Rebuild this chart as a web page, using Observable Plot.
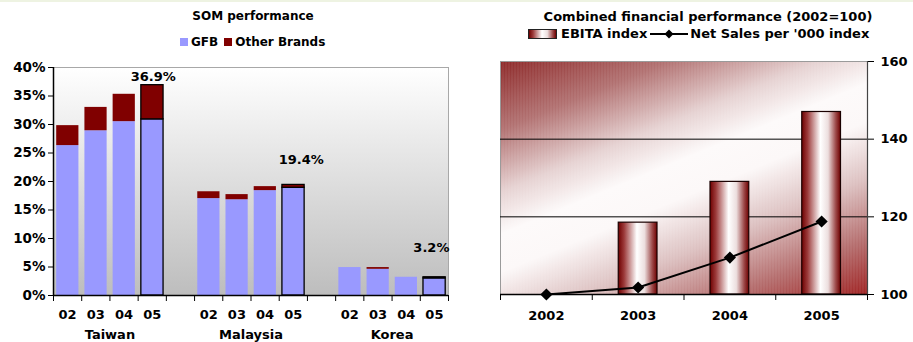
<!DOCTYPE html>
<html>
<head>
<meta charset="utf-8">
<script src="https://cdn.jsdelivr.net/npm/d3@7"></script>
<script src="https://cdn.jsdelivr.net/npm/@observablehq/plot@0.6"></script>
<style>
  body { margin: 0; background: #fff; font-family: "DejaVu Sans", Verdana, sans-serif; }
  #wrap { position: relative; width: 913px; height: 342px; overflow: hidden; background: #fff; }
  #topline { position: absolute; left: 0; top: 0; width: 913px; height: 2px; background: #eef3e2; }
  .title { position: absolute; font-weight: bold; color: #000; white-space: nowrap; text-align: center; }
  .legend { position: absolute; font-weight: bold; color: #000; white-space: nowrap; display: flex; align-items: center; }
  .sw { display: inline-block; width: 8px; height: 8px; margin-right: 3px; }
  .chart { position: absolute; }
  svg { overflow: visible; }
</style>
</head>
<body>
<div id="wrap">
  <div id="topline"></div>
  <div class="title" style="left:0;width:506px;top:9px;font-size:12px;">SOM performance</div>
  <div class="legend" id="somLegend" style="left:180px;top:35px;font-size:12px;"></div>
  <div class="title" style="left:460px;width:496px;top:9px;font-size:13px;">Combined financial performance (2002=100)</div>
  <div class="legend" id="finLegend" style="left:528px;top:26px;font-size:13px;"></div>
  <div class="chart" id="som" style="left:0;top:55px;"></div>
  <div class="chart" id="fin" style="left:460px;top:50px;"></div>
</div>
<script>
// Share of market (%) by market and year
const markets = ["Taiwan", "Malaysia", "Korea"];
const yearLabels = ["02", "03", "04", "05"];
const taiwanGFB = [26.3, 28.9, 30.5, 30.9];
const taiwanTotal = [29.8, 33.0, 35.3, 36.9];
const malaysiaGFB = [17.0, 16.8, 18.4, 18.9];
const malaysiaTotal = [18.2, 17.7, 19.1, 19.4];
const koreaGFB = [4.9, 4.6, 3.2, 3.0];
const koreaTotal = [4.9, 4.9, 3.2, 3.2];
const shareTicks = [0, 5, 10, 15, 20, 25, 30, 35, 40];

// Financial indices (2002 = 100)
const finYears = ["2002", "2003", "2004", "2005"];
const ebitaIndex = [100, 118.5, 129, 147];
const netSalesIndex = [100, 101.8, 109.5, 118.8];
const indexTicks = [100, 120, 140, 160];

const GFB_COLOR = "#9999ff";
const OTHER_COLOR = "#800000";
const FONT = "'DejaVu Sans', Verdana, sans-serif";
const NS = "http://www.w3.org/2000/svg";

function addDefs(svg, markup) {
  const defs = document.createElementNS(NS, "defs");
  defs.innerHTML = markup;
  svg.insertBefore(defs, svg.firstChild);
}

// ---------- SOM performance ----------
const gfbSeries = [taiwanGFB, malaysiaGFB, koreaGFB];
const totalSeries = [taiwanTotal, malaysiaTotal, koreaTotal];
const rows = [];
markets.forEach((m, g) => {
  yearLabels.forEach((yr, k) => {
    rows.push({
      market: m, yr, slot: g * 5 + k,
      gfb: gfbSeries[g][k], total: totalSeries[g][k],
      latest: k === yearLabels.length - 1
    });
  });
});
const latestRows = rows.filter(d => d.latest);
const slotCount = markets.length * 5 - 1;
const labelShift = [[1, -8], [8, -25], [-3, -29]];

const som = Plot.plot({
  width: 460, height: 287,
  marginLeft: 53, marginRight: 12, marginTop: 12, marginBottom: 47,
  x: { type: "linear", domain: [0, slotCount], axis: null },
  y: { domain: [0, 40], axis: null },
  style: { fontFamily: FONT, fontSize: "13px", fontWeight: "bold", color: "#000", background: "transparent" },
  marks: [
    Plot.frame({ fill: "url(#somBg)", stroke: "#a8a8a8" }),
    Plot.rectY(rows, {
      x1: "slot", x2: d => d.slot + 1, y1: 0, y2: "gfb",
      fill: GFB_COLOR, insetLeft: 3.2, insetRight: 2.8,
      stroke: d => d.latest ? "#000" : "none", strokeWidth: 1.3
    }),
    Plot.rectY(rows.filter(d => d.total > d.gfb), {
      x1: "slot", x2: d => d.slot + 1, y1: "gfb", y2: "total",
      fill: OTHER_COLOR, insetLeft: 3.2, insetRight: 2.8,
      stroke: d => d.latest ? "#000" : "none", strokeWidth: 1.3
    }),
    Plot.axisY({ ticks: shareTicks, tickFormat: d => d + "%", tickSize: 5, tickPadding: 3, fontSize: 13.5, label: null }),
    Plot.ruleX([0], { stroke: "#000", strokeWidth: 1.5 }),
    Plot.ruleY([0], { stroke: "#000", strokeWidth: 1.5 }),
    Plot.axisX({ ticks: d3.range(slotCount + 1), tickFormat: () => "", tickSize: 6, label: null }),
    Plot.text(rows, { x: d => d.slot + 0.5, y: 0, text: "yr", dy: 19, fontSize: 13 }),
    Plot.text(markets, { x: (d, i) => i * 5 + 2, y: 0, text: d => d, dy: 39, fontSize: 13 }),
    ...latestRows.map((d, i) => Plot.text([d], {
      x: r => r.slot + 0.5, y: "total", text: r => r.total.toFixed(1) + "%",
      dx: labelShift[i][0], dy: labelShift[i][1], fontSize: 13
    }))
  ]
});
addDefs(som, `
  <linearGradient id="somBg" x1="0" y1="0" x2="0" y2="1">
    <stop offset="0" stop-color="#ffffff"/>
    <stop offset="1" stop-color="#bdbdbd"/>
  </linearGradient>`);
document.getElementById("som").appendChild(som);

// SOM legend
const somLegend = document.getElementById("somLegend");
[["GFB", GFB_COLOR], ["Other Brands", OTHER_COLOR]].forEach(([name, c], i) => {
  const s = document.createElement("span");
  s.className = "sw"; s.style.background = c;
  if (i > 0) s.style.marginLeft = "6px";
  somLegend.appendChild(s);
  somLegend.appendChild(document.createTextNode(name));
});

// ---------- Combined financial performance ----------
const fin = finYears.map((y, i) => ({ year: y, i, ebita: ebitaIndex[i], sales: netSalesIndex[i] }));

const finChart = Plot.plot({
  width: 453, height: 292,
  marginLeft: 40, marginRight: 46, marginTop: 11, marginBottom: 48,
  x: { type: "linear", domain: [0, finYears.length], axis: null },
  y: { domain: [100, 160], axis: null },
  style: { fontFamily: FONT, fontSize: "13px", fontWeight: "bold", color: "#000", background: "transparent" },
  marks: [
    Plot.frame({ fill: "url(#finBg)", stroke: "none" }),
    Plot.frame({ fill: "url(#finStripes)", stroke: "#9a9a9a" }),
    Plot.ruleY([120, 140], { stroke: "#000", strokeWidth: 1 }),
    Plot.rectY(fin, {
      x1: "i", x2: d => d.i + 1, y1: 100, y2: "ebita",
      fill: "url(#cyl)", stroke: "#1a0000", strokeWidth: 1.2,
      insetLeft: 26.5, insetRight: 26.5
    }),
    Plot.ruleY([100], { stroke: "#000", strokeWidth: 1.5 }),
    Plot.ruleX([finYears.length], { stroke: "#444", strokeWidth: 1.2 }),
    Plot.axisY({ anchor: "right", ticks: indexTicks, tickSize: 6, tickPadding: 7, fontSize: 13, label: null }),
    Plot.axisX({ ticks: d3.range(finYears.length + 1), tickFormat: () => "", tickSize: 6, label: null }),
    Plot.text(fin, { x: d => d.i + 0.5, y: 100, text: "year", dy: 21, fontSize: 13 }),
    Plot.line(fin, { x: d => d.i + 0.5, y: "sales", stroke: "#000", strokeWidth: 2 }),
    Plot.dot(fin, { x: d => d.i + 0.5, y: "sales", symbol: "diamond2", r: 5.5, fill: "#000", stroke: "none" })
  ]
});
// Background runs red in the upper-left and lower-right corners, white along the diagonal
addDefs(finChart, `
  <linearGradient id="finBg" gradientUnits="userSpaceOnUse" x1="162" y1="-39" x2="297" y2="289">
    <stop offset="0" stop-color="#8e2a2a"/>
    <stop offset="0.18" stop-color="#b27272"/>
    <stop offset="0.34" stop-color="#e6d2d2"/>
    <stop offset="0.45" stop-color="#fdfafa"/>
    <stop offset="0.55" stop-color="#fcf8f8"/>
    <stop offset="0.7" stop-color="#dcc0c0"/>
    <stop offset="0.86" stop-color="#b46c6c"/>
    <stop offset="1" stop-color="#a02424"/>
  </linearGradient>
  <pattern id="finStripes" width="3" height="10" patternUnits="userSpaceOnUse">
    <rect x="0" y="0" width="1" height="10" fill="#ffffff" fill-opacity="0.1"/>
  </pattern>
  <linearGradient id="cyl" x1="0" y1="0" x2="1" y2="0">
    <stop offset="0" stop-color="#6e0000"/>
    <stop offset="0.15" stop-color="#9c3a3a"/>
    <stop offset="0.48" stop-color="#ffffff"/>
    <stop offset="0.68" stop-color="#ecdede"/>
    <stop offset="0.88" stop-color="#9c4848"/>
    <stop offset="1" stop-color="#6e0000"/>
  </linearGradient>`);
document.getElementById("fin").appendChild(finChart);

// Financial legend
const finLegend = document.getElementById("finLegend");
const cylSw = document.createElement("span");
cylSw.style.cssText = "display:inline-block;width:27px;height:8px;border:1px solid #222;margin-right:4px;" +
  "background:linear-gradient(to right,#6e0000,#9c3a3a 15%,#fff 48%,#ecdede 68%,#9c4848 88%,#6e0000);";
finLegend.appendChild(cylSw);
finLegend.appendChild(document.createTextNode("EBITA index"));
const lineSw = document.createElementNS(NS, "svg");
lineSw.setAttribute("width", "38"); lineSw.setAttribute("height", "12");
lineSw.style.margin = "0 2px 0 3px";
lineSw.innerHTML = '<line x1="0" y1="6" x2="38" y2="6" stroke="#000" stroke-width="2"/>' +
  '<path d="M19 1.5 L23.5 6 L19 10.5 L14.5 6 Z" fill="#000"/>';
finLegend.appendChild(lineSw);
finLegend.appendChild(document.createTextNode("Net Sales per '000 index"));
</script>
</body>
</html>
